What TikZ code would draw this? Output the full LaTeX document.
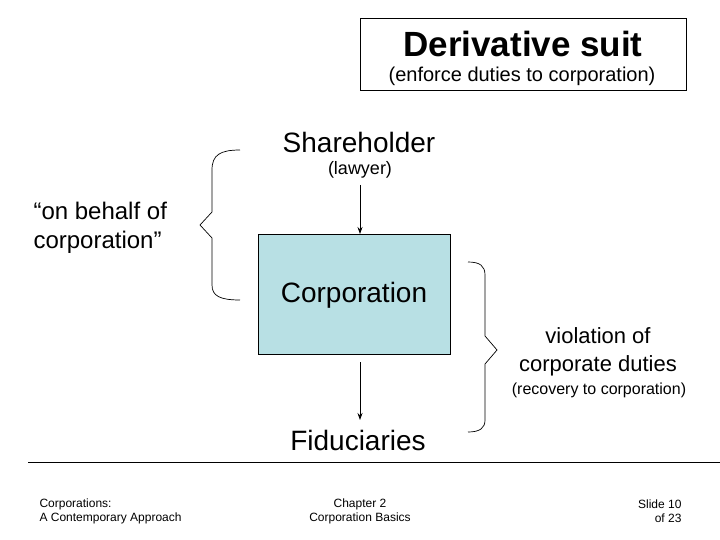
\documentclass[tikz,border=0pt]{standalone}
\usepackage{fontspec}
\setmainfont{Liberation Sans}
\usetikzlibrary{arrows.meta}
\begin{document}
\begin{tikzpicture}[x=1pt,y=-1pt,
  arr/.style={-{Stealth[length=7pt,width=5pt]},line width=0.8pt},
  brace/.style={line width=0.7pt},
  big/.style={font=\fontsize{28}{32}\selectfont},
  small/.style={font=\fontsize{16}{19}\selectfont},
  foot/.style={font=\fontsize{12}{14}\selectfont,align=left}]
\useasboundingbox (0,0) rectangle (720,540);
\node[draw,line width=0.6pt,minimum width=326pt,minimum height=72pt,anchor=north west] (title) at (360,18) {};
\node[font=\bfseries\fontsize{35}{40}\selectfont] (t1) at (523,44) {Derivative suit};
\node[font=\fontsize{20}{24}\selectfont] (t2) at (522,76) {(enforce duties to corporation)};
\node[big] (sh) at (359,142) {Shareholder};
\node[font=\fontsize{18}{21}\selectfont] (law) at (360,170) {(lawyer)};
\node[draw,line width=0.6pt,fill={rgb,255:red,184;green,224;blue,228},minimum width=192pt,minimum height=120pt,anchor=north west] (corp) at (258,234) {};
\node[big] (ct) at (354,295) {Corporation};
\node[big] (fid) at (358,440) {Fiduciaries};
\coordinate (a1) at (360,185);
\coordinate (a2) at (360,362);
\coordinate (a3) at (360,420);
\draw[arr] (a1) -- (corp.north -| a1);
\draw[arr] (a2) -- (a3);
\draw[brace] (240,150) .. controls (220,150) and (212,155) .. (212,170) -- (212,212) -- (200,225) -- (212,238) -- (212,285) .. controls (212,296) and (220,300) .. (240,300);
\node[font=\fontsize{24}{29}\selectfont,align=left,anchor=west] (beh) at (30,228) {“on behalf of\\ corporation”};
\draw[brace] (468,262) .. controls (480,262) and (485,266) .. (485,275) -- (485,336) -- (497,350) -- (485,364) -- (485,420) .. controls (485,428) and (480,432) .. (468,432);
\node[font=\fontsize{22}{28}\selectfont,align=center] (vio) at (598,352) {violation of\\corporate duties};
\node[small] (rec) at (599,390) {(recovery to corporation)};
\coordinate (l1) at (28,462);
\coordinate (l2) at (720,462);
\draw[line width=0.8pt] (l1) -- (l2);
\node[foot,anchor=west] (f1) at (36,511) {Corporations:\\A Contemporary Approach};
\node[foot,align=center] (f2) at (360,511) {Chapter 2\\Corporation Basics};
\node[foot,align=right,anchor=east] (f3) at (685,511) {Slide 10\\of 23};
\end{tikzpicture}
\end{document}
